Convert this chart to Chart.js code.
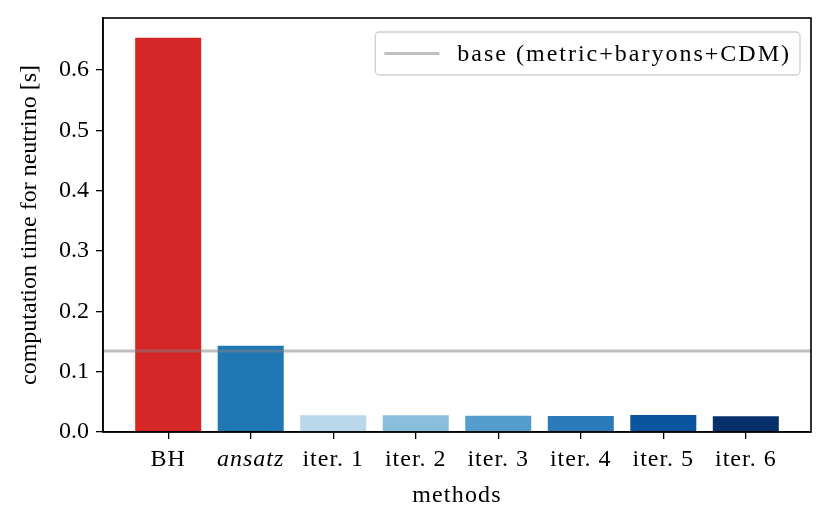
<!DOCTYPE html>
<html>
<head>
<meta charset="utf-8">
<script src="https://cdn.jsdelivr.net/npm/chart.js@4"></script>
<style>
  html, body { margin: 0; padding: 0; background: #fff; }
  canvas { display: block; }
</style>
</head>
<body>
<canvas id="c" width="831" height="524"></canvas>
<script>
// ---- data ----
const categories = ['BH', 'ansatz', 'iter. 1', 'iter. 2', 'iter. 3', 'iter. 4', 'iter. 5', 'iter. 6'];
const times = [0.6536, 0.1430, 0.0277, 0.0277, 0.0271, 0.0266, 0.0282, 0.0261];
const baseTime = 0.1343;
const baseLabel = 'base (metric+baryons+CDM)';
const yTickValues = [0.0, 0.1, 0.2, 0.3, 0.4, 0.5, 0.6];
const yLabel = 'computation time for neutrino [s]';
const xLabel = 'methods';

// ---- styles ----
const barColors = ['#d62728', '#1f77b4', '#bad6eb', '#89bedc', '#539ecd', '#2b7bba', '#0b559f', '#08306b'];
const FONT = '"Liberation Serif", "Times New Roman", serif';
const FS = 24;
const XMIN = -0.79, XMAX = categories.length - 1 + 0.79;
const YMAX = 0.6863;

Chart.defaults.color = '#000';
Chart.defaults.font.family = FONT;
Chart.defaults.font.size = FS;

const framePlugin = {
  id: 'frame',
  afterDatasetsDraw(chart) {
    const { ctx, chartArea: a } = chart;
    ctx.save();
    ctx.strokeStyle = '#000';
    ctx.lineWidth = 1.6;
    ctx.strokeRect(a.left, a.top, a.right - a.left, a.bottom - a.top);
    ctx.restore();
  }
};

function withSpacing(ctx, sp, fn) {
  const has = 'letterSpacing' in ctx;
  if (has) ctx.letterSpacing = sp;
  try { fn(); } finally { if (has) ctx.letterSpacing = '0px'; }
}

// slightly wider letter spacing on the x axis text (closer to the reference's wide serif face)
const spacingPlugin = {
  id: 'xSpacing',
  afterUpdate(chart) {
    const xs = chart.scales.x;
    if (xs && !xs._spaced) {
      const dl = xs.drawLabels.bind(xs), dt = xs.drawTitle.bind(xs);
      xs.drawLabels = function (ca) { withSpacing(this.ctx, '1px', () => dl(ca)); };
      xs.drawTitle = function (ca) { withSpacing(this.ctx, '1.2px', () => dt(ca)); };
      xs._spaced = true;
    }
  }
};

const legendPlugin = {
  id: 'mplLegend',
  afterDraw(chart) {
    const { ctx, chartArea: a } = chart;
    const ds = chart.data.datasets.find(d => d.type === 'line');
    ctx.save();
    ctx.font = FS + 'px ' + FONT;
    withSpacing(ctx, '2px', () => {
      const tw = ctx.measureText(ds.label).width;
      const boxR = a.right - 11, boxT = a.top + 14;
      const boxW = 9 + 55 + 18 + tw + 9, boxH = 43;
      const boxL = boxR - boxW;
      const r = 4;
      ctx.beginPath();
      ctx.moveTo(boxL + r, boxT);
      ctx.arcTo(boxR, boxT, boxR, boxT + boxH, r);
      ctx.arcTo(boxR, boxT + boxH, boxL, boxT + boxH, r);
      ctx.arcTo(boxL, boxT + boxH, boxL, boxT, r);
      ctx.arcTo(boxL, boxT, boxR, boxT, r);
      ctx.closePath();
      ctx.fillStyle = 'rgba(255,255,255,0.8)';
      ctx.fill();
      ctx.strokeStyle = '#d0d0d0';
      ctx.lineWidth = 1.3;
      ctx.stroke();
      const cy = boxT + boxH / 2;
      ctx.strokeStyle = ds.borderColor;
      ctx.lineWidth = ds.borderWidth;
      ctx.beginPath();
      ctx.moveTo(boxL + 9, cy);
      ctx.lineTo(boxL + 64, cy);
      ctx.stroke();
      ctx.fillStyle = '#000';
      ctx.textBaseline = 'middle';
      ctx.textAlign = 'left';
      ctx.fillText(ds.label, boxL + 82, cy + 1);
    });
    ctx.restore();
  }
};

new Chart(document.getElementById('c'), {
  data: {
    datasets: [
      {
        type: 'line',
        label: baseLabel,
        data: [{ x: XMIN, y: baseTime }, { x: XMAX, y: baseTime }],
        borderColor: 'rgba(128,128,128,0.5)',
        borderWidth: 3,
        pointRadius: 0,
        order: 0
      },
      {
        type: 'bar',
        label: 'computation time',
        data: categories.map((c, i) => ({ x: i, y: times[i] })),
        backgroundColor: barColors,
        borderWidth: 0,
        categoryPercentage: 1.0,
        barPercentage: 0.8,
        order: 1
      }
    ]
  },
  options: {
    responsive: false,
    animation: false,
    layout: { padding: { top: 18, right: 20, left: 0, bottom: 0 } },
    plugins: { legend: { display: false }, tooltip: { enabled: false } },
    scales: {
      x: {
        type: 'linear',
        offset: false,
        min: XMIN,
        max: XMAX,
        afterBuildTicks(scale) { scale.ticks = categories.map((c, i) => ({ value: i })); },
        afterFit(scale) { scale.height = 92; scale.paddingLeft = 0; scale.paddingRight = 0; },
        grid: { offset: false, drawOnChartArea: false, drawTicks: true, tickLength: 7, color: '#000', lineWidth: 1.3 },
        border: { display: true, color: '#000', width: 1.6 },
        ticks: {
          padding: 6,
          color: '#000',
          autoSkip: false,
          maxRotation: 0,
          callback: (v) => categories[Math.round(v)],
          font: (ctx) => ({ family: FONT, size: FS, style: ctx.index === 1 ? 'italic' : 'normal' })
        },
        title: { display: true, text: xLabel, color: '#000', font: { family: FONT, size: FS, lineHeight: 1.2 }, padding: { top: 0, bottom: 14 } }
      },
      y: {
        type: 'linear',
        min: 0,
        max: YMAX,
        afterBuildTicks(scale) { scale.ticks = yTickValues.map(v => ({ value: v })); },
        afterFit(scale) { scale.width = 103; scale.paddingTop = 0; scale.paddingBottom = 0; },
        grid: { drawOnChartArea: false, drawTicks: true, tickLength: 7, color: '#000', lineWidth: 1.3 },
        border: { display: true, color: '#000', width: 1.6 },
        ticks: { padding: 7, color: '#000', callback: (v) => v.toFixed(1) },
        title: { display: true, text: yLabel, color: '#000', font: { family: FONT, size: FS, lineHeight: 1.2 }, padding: { top: 15, bottom: 0 } }
      }
    }
  },
  plugins: [framePlugin, spacingPlugin, legendPlugin]
});
</script>
</body>
</html>
